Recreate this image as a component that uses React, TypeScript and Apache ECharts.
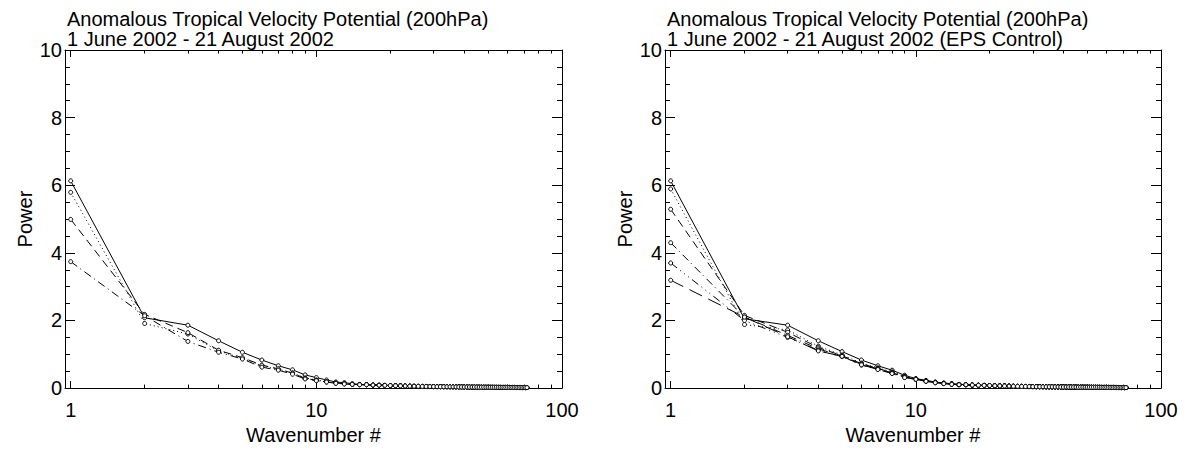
import React, { useEffect, useRef } from "react";
import * as echarts from "echarts";

// Wavenumber (x) values
const wavenumbers = [
  1, 2, 3, 4, 5, 6, 7, 8, 9, 10, 11, 12, 13, 14, 15, 16, 17, 18, 19, 20,
  21, 22, 23, 24, 25, 26, 27, 28, 29, 30, 31, 32, 33, 34, 35, 36, 37, 38, 39, 40,
  41, 42, 43, 44, 45, 46, 47, 48, 49, 50, 51, 52, 53, 54, 55, 56, 57, 58, 59, 60,
  61, 62, 63, 64, 65, 66, 67, 68, 69, 70, 71, 72,
];

// Power for wavenumbers 1..15 (left panel)
const leftSolid = [6.13, 2.08, 1.86, 1.40, 1.06, 0.83, 0.66, 0.54, 0.39, 0.31, 0.24, 0.18, 0.16, 0.13, 0.11];
const leftDotted = [5.79, 1.91, 1.60, 1.10, 0.88, 0.66, 0.56, 0.45, 0.30, 0.24, 0.19, 0.15, 0.13, 0.11, 0.10];
const leftDashed = [4.99, 2.18, 1.64, 1.12, 0.90, 0.68, 0.57, 0.44, 0.29, 0.23, 0.18, 0.15, 0.13, 0.11, 0.10];
const leftDashDot = [3.74, 2.14, 1.38, 1.06, 0.86, 0.62, 0.53, 0.41, 0.27, 0.22, 0.18, 0.14, 0.12, 0.11, 0.10];

// Power for wavenumbers 1..15 (right panel, EPS control)
const rightSolid = [6.13, 2.05, 1.86, 1.40, 1.08, 0.83, 0.66, 0.53, 0.38, 0.28, 0.23, 0.18, 0.15, 0.13, 0.11];
const rightDotted = [5.89, 1.88, 1.72, 1.24, 0.98, 0.74, 0.60, 0.48, 0.35, 0.27, 0.21, 0.17, 0.14, 0.12, 0.11];
const rightDashed = [5.29, 2.15, 1.65, 1.20, 0.96, 0.72, 0.58, 0.46, 0.33, 0.27, 0.21, 0.17, 0.14, 0.12, 0.10];
const rightDashDot = [4.30, 2.10, 1.56, 1.16, 0.95, 0.70, 0.57, 0.45, 0.33, 0.26, 0.20, 0.16, 0.14, 0.12, 0.10];
const rightDash3Dot = [3.70, 2.00, 1.50, 1.12, 0.93, 0.68, 0.56, 0.44, 0.32, 0.26, 0.20, 0.16, 0.14, 0.12, 0.10];
const rightLongDash = [3.19, 2.10, 1.52, 1.10, 0.94, 0.69, 0.55, 0.43, 0.31, 0.26, 0.20, 0.16, 0.13, 0.11, 0.10];

// Power for wavenumbers 16..72 (all curves overlap here)
const tailPower = [
  0.10, 0.09, 0.085, 0.08, 0.075, 0.07, 0.066, 0.062, 0.058, 0.055,
  0.052, 0.05, 0.048, 0.046, 0.044, 0.042, 0.041, 0.04, 0.039, 0.038,
  0.037, 0.036, 0.035, 0.034, 0.033, 0.032, 0.031, 0.03, 0.03, 0.029,
  0.028, 0.028, 0.027, 0.026, 0.026, 0.025, 0.025, 0.024, 0.024, 0.023,
  0.023, 0.022, 0.022, 0.021, 0.021, 0.02, 0.02, 0.019, 0.019, 0.018,
  0.018, 0.017, 0.017, 0.016, 0.016, 0.015, 0.015,
];

const majorXTicks = [1, 10, 100];
const minorXTicks = [2, 3, 4, 5, 6, 7, 8, 9, 20, 30, 40, 50, 60, 70, 80, 90];

const titleLine1 = "Anomalous Tropical Velocity Potential (200hPa)";
const leftTitleLine2 = "1 June 2002 - 21 August 2002";
const rightTitleLine2 = "1 June 2002 - 21 August 2002 (EPS Control)";

const FONT = "'Liberation Sans', Arial, Helvetica, sans-serif";
const FS = 20;

const DOTTED = [1, 3];
const DASHED = [8, 5];
const DASHDOT = [8, 4, 1, 4];
const DASH3DOT = [8, 4, 1, 4, 1, 4, 1, 4];
const LONGDASH = [14, 7];

function toData(head: number[]) {
  const vals = head.concat(tailPower);
  return wavenumbers.map((k, i) => [k, vals[i]]);
}

function makeXAxes(gridIndex: number) {
  const base: any = {
    type: "log",
    logBase: 10,
    gridIndex,
    min: 0.948,
    max: 100,
    splitLine: { show: false },
    minorTick: { show: false },
    minorSplitLine: { show: false },
  };
  const line = { color: "#000", width: 1 };
  return [
    {
      ...base,
      position: "bottom",
      axisLine: { show: true, lineStyle: line },
      axisTick: { show: true, inside: true, length: 7, customValues: majorXTicks, lineStyle: line },
      axisLabel: {
        show: true,
        customValues: majorXTicks,
        color: "#000",
        fontSize: FS,
        fontFamily: FONT,
        margin: 12,
        formatter: (v: number) => String(Math.round(v)),
      },
      name: "Wavenumber #",
      nameLocation: "middle",
      nameGap: 28,
      nameTextStyle: { color: "#000", fontSize: FS, fontFamily: FONT },
    },
    {
      ...base,
      position: "bottom",
      axisLine: { show: false },
      axisTick: { show: true, inside: true, length: 3.5, customValues: minorXTicks, lineStyle: line },
      axisLabel: { show: false },
    },
    {
      ...base,
      position: "top",
      axisLine: { show: true, lineStyle: line },
      axisTick: { show: true, inside: true, length: 7, customValues: majorXTicks, lineStyle: line },
      axisLabel: { show: false },
    },
    {
      ...base,
      position: "top",
      axisLine: { show: false },
      axisTick: { show: true, inside: true, length: 3.5, customValues: minorXTicks, lineStyle: line },
      axisLabel: { show: false },
    },
  ];
}

function makeYAxes(gridIndex: number) {
  const line = { color: "#000", width: 1 };
  const base: any = {
    type: "value",
    gridIndex,
    min: 0,
    max: 10,
    interval: 2,
    splitLine: { show: false },
    minorSplitLine: { show: false },
    axisLine: { show: true, lineStyle: line },
    axisTick: { show: true, inside: true, length: 10, lineStyle: line },
    minorTick: { show: true, splitNumber: 4, length: 5, lineStyle: line },
  };
  return [
    {
      ...base,
      position: "left",
      axisLabel: { color: "#000", fontSize: FS, fontFamily: FONT, margin: 3 },
      name: "Power",
      nameLocation: "middle",
      nameGap: 30,
      nameRotate: 90,
      nameTextStyle: { color: "#000", fontSize: FS, fontFamily: FONT },
    },
    {
      ...base,
      position: "right",
      axisLabel: { show: false },
    },
  ];
}

function makeSeries(head: number[], dash: any, xAxisIndex: number, yAxisIndex: number) {
  return {
    type: "line",
    xAxisIndex,
    yAxisIndex,
    data: toData(head),
    symbol: "circle",
    symbolSize: 4,
    showSymbol: true,
    showAllSymbol: true,
    lineStyle: { color: "#000", width: 1, type: dash },
    itemStyle: { color: "#fff", borderColor: "#000", borderWidth: 1 },
    emphasis: { disabled: true },
  };
}

export default function App() {
  const ref = useRef<HTMLDivElement>(null);
  useEffect(() => {
    if (!ref.current) return;
    const chart = echarts.init(ref.current, undefined, { renderer: "svg" });
    const titleStyle = {
      fontSize: FS,
      fontWeight: "normal" as const,
      fontFamily: FONT,
      color: "#000",
      lineHeight: 20,
    };
    chart.setOption({
      animation: false,
      backgroundColor: "#fff",
      title: [
        { text: titleLine1 + "\n" + leftTitleLine2, left: 67, top: 9, padding: 0, textStyle: titleStyle },
        { text: titleLine1 + "\n" + rightTitleLine2, left: 667, top: 9, padding: 0, textStyle: titleStyle },
      ],
      grid: [
        { left: 65, top: 50, width: 497, height: 351, containLabel: false },
        { left: 665, top: 50, width: 496, height: 351, containLabel: false },
      ],
      xAxis: [...makeXAxes(0), ...makeXAxes(1)],
      yAxis: [...makeYAxes(0), ...makeYAxes(1)],
      series: [
        makeSeries(leftSolid, "solid", 0, 0),
        makeSeries(leftDotted, DOTTED, 0, 0),
        makeSeries(leftDashed, DASHED, 0, 0),
        makeSeries(leftDashDot, DASHDOT, 0, 0),
        makeSeries(rightSolid, "solid", 4, 2),
        makeSeries(rightDotted, DOTTED, 4, 2),
        makeSeries(rightDashed, DASHED, 4, 2),
        makeSeries(rightDashDot, DASHDOT, 4, 2),
        makeSeries(rightDash3Dot, DASH3DOT, 4, 2),
        makeSeries(rightLongDash, LONGDASH, 4, 2),
      ],
    });
    return () => chart.dispose();
  }, []);
  return (
    <div
      ref={ref}
      style={{ position: "fixed", left: 0, top: 0, width: 1186, height: 450, background: "#fff" }}
    />
  );
}
